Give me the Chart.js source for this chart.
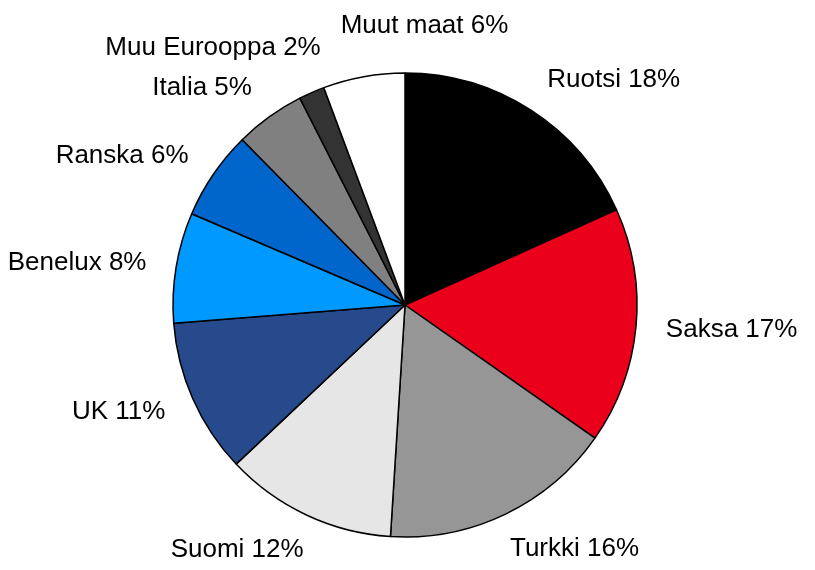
<!DOCTYPE html>
<html>
<head>
<meta charset="utf-8">
<script src="https://cdn.jsdelivr.net/npm/chart.js@4"></script>
<style>
  html, body { margin: 0; padding: 0; background: #fff; }
  #wrap { width: 815px; height: 570px; }
</style>
</head>
<body>
<div id="wrap"><canvas id="pieChart" width="815" height="570"></canvas></div>
<script>
// Data (slice sizes, labels show rounded %)
const countries = ["Ruotsi", "Saksa", "Turkki", "Suomi", "UK", "Benelux", "Ranska", "Italia", "Muu Eurooppa", "Muut maat"];
const shares = [18.3, 16.5, 16.3, 12.0, 10.8, 7.7, 6.2, 4.9, 1.8, 5.7];
const colors = ["#000000", "#eb001b", "#969696", "#e6e6e6", "#264a8c", "#0099ff", "#0066cc", "#808080", "#333333", "#ffffff"];

// Labels outside the pie
const outLabels = {
  id: 'outLabels',
  afterDatasetsDraw(chart) {
    const ctx = chart.ctx;
    const arcs = chart.getDatasetMeta(0).data;
    ctx.save();
    ctx.font = '26px "Liberation Sans", Arial, sans-serif';
    ctx.fillStyle = '#000';
    ctx.textAlign = 'center';
    ctx.textBaseline = 'middle';
    const placed = [];
    const sep = 40;
    arcs.forEach((arc, i) => {
      const text = countries[i] + ' ' + Math.round(shares[i]) + '%';
      const w = ctx.measureText(text).width, h = 22;
      const a = (arc.startAngle + arc.endAngle) / 2;
      const c = Math.cos(a), s = Math.sin(a);
      const r = arc.outerRadius + 30;
      let x = arc.x + c * r + Math.sign(c) * Math.min(1, Math.abs(c) * 2) * w / 2;
      let y = arc.y + s * r + s * Math.pow(Math.abs(s), 3) * h / 2;
      y = Math.min(Math.max(y, h / 2 + 4), chart.height - h / 2 - 4);
      x = Math.min(Math.max(x, w / 2 + 4), chart.width - w / 2 - 4);
      placed.forEach(p => {
        if (Math.abs(x - p.x) < (w + p.w) / 2 + 4 && Math.abs(y - p.y) < sep) {
          if (Math.abs(c) < 0.3) {
            // near the top: step sideways and a bit up
            x = x > p.x ? p.x + (w + p.w) / 2 + 20 : p.x - (w + p.w) / 2 - 20;
            y = Math.max(h / 2 + 4, Math.min(y, p.y - h));
          } else {
            y = s < 0 ? p.y - sep : p.y + sep;
          }
        }
      });
      placed.push({ x, y, w, h });
      ctx.fillText(text, x, y);
    });
    ctx.restore();
  }
};

const ctx = document.getElementById('pieChart').getContext('2d');

new Chart(ctx, {
  type: 'pie',
  data: {
    labels: countries,
    datasets: [{
      data: shares,
      backgroundColor: colors,
      borderColor: "#000",
      borderWidth: 1.5
    }]
  },
  options: {
    responsive: false,
    animation: false,
    radius: 232,
    layout: { padding: { top: 72, bottom: 32, left: 100, right: 105 } },
    plugins: {
      legend: { display: false },
      tooltip: { enabled: false }
    }
  },
  plugins: [outLabels]
});
</script>
</body>
</html>
